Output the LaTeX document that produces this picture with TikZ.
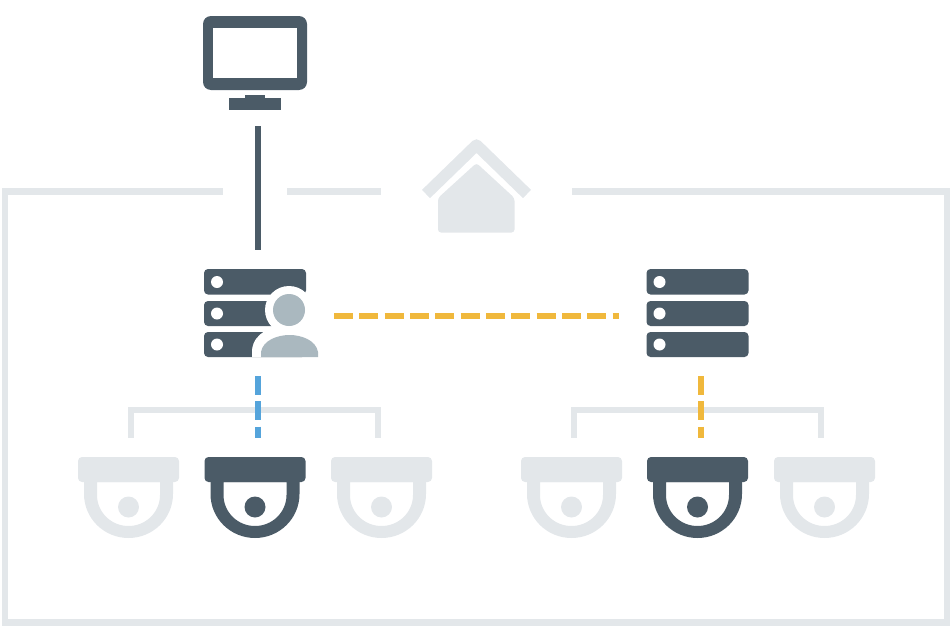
\documentclass[tikz,border=0pt]{standalone}
\definecolor{darkc}{HTML}{4B5B67}
\definecolor{lightc}{HTML}{E3E7EA}
\definecolor{yellowc}{HTML}{F0B83C}
\definecolor{bluec}{HTML}{55A4DB}
\definecolor{personc}{HTML}{AAB8BF}
\tikzset{
  anchorbox/.style={inner sep=0pt,outer sep=0pt,minimum width=1pt},
  solidlink/.style={draw=darkc,line width=6pt},
  framelink/.style={draw=lightc,line width=6.5pt},
  treelink/.style={draw=lightc,line width=6pt},
  yellowlink/.style={draw=yellowc,line width=6pt,dash pattern=on 19pt off 6.33pt},
  bluelink/.style={draw=bluec,line width=6pt,dash pattern=on 19pt off 6.33pt},
}
% #1 node name, #2 icon centre x, #3 colour, #4 connector x
\newcommand{\camicon}[4]{%
  \fill[#3,even odd rule]
    (#2-44.5,478) -- (#2-44.5,494) arc[start angle=180,end angle=360,x radius=44.5,y radius=-44] -- (#2+44.5,478) -- cycle
    (#2-31.5,482) -- (#2-31.5,495) arc[start angle=180,end angle=360,x radius=31.5,y radius=-31] -- (#2+31.5,482) -- cycle;
  \fill[#3,rounded corners=4pt] (#2-50.5,457) rectangle (#2+50.5,482);
  \fill[#3] (#2,507) circle[radius=10.5];
  \node[anchorbox,minimum height=100pt] (#1) at (#4,488) {};
}
% #1 node name, #2 icon left x, #3 connector x, #4 width up to the east/west end
\newcommand{\servericon}[4]{%
  \fill[darkc,rounded corners=4pt] (#2,269) rectangle (#2+102,294.5);
  \fill[darkc,rounded corners=4pt] (#2,301) rectangle (#2+102,326);
  \fill[darkc,rounded corners=4pt] (#2,332) rectangle (#2+102,357);
  \fill[white] (#2+13,282) circle[radius=6];
  \fill[white] (#2+13,313.5) circle[radius=6];
  \fill[white] (#2+13,344.5) circle[radius=6];
  \node[anchorbox,minimum height=126pt,minimum width=#4] (#1) at (#3,313) {};
}
\begin{document}
\begin{tikzpicture}[x=1pt,y=-1pt]
\useasboundingbox (0,0) rectangle (951,629);
% frame
\draw[framelink] (223,191.5) -- (5,191.5) -- (5,622.5) -- (947,622.5) -- (947,191.5) -- (572,191.5);
\draw[framelink] (287,191.5) -- (381,191.5);
% house
\draw[lightc,line width=11.5pt,line join=round] (426,194) -- (476.5,145) -- (527,194);
\fill[lightc,rounded corners=3pt] (438,232.5) -- (438,198) -- (476.5,163) -- (514.5,198) -- (514.5,232.5) -- cycle;
% monitor
\fill[darkc,rounded corners=8pt] (203,16) rectangle (307,90);
\fill[white] (213,28) rectangle (297,78);
\fill[darkc] (245,95) rectangle (265,100);
\fill[darkc] (229,98) rectangle (281,110);
\node[anchorbox,minimum height=116pt] (monitor) at (258,68) {};
% servers
\servericon{srvA}{204}{258}{152pt}
\servericon{srvB}{646.5}{701}{164pt}
% person badge
\fill[white] (289,310) circle[radius=24];
\fill[white] (252,357) -- (252,350) .. controls (254,332) and (272,326) .. (289,326) .. controls (306,326) and (327,332) .. (327,350) -- (327,357) -- cycle;
\fill[personc] (289,310) circle[radius=16];
\fill[personc] (261,357) -- (261,352) .. controls (263,340) and (278,335) .. (289.5,335) .. controls (301,335) and (316,340) .. (318,352) -- (318,357) -- cycle;
% cameras
\camicon{camA1}{128.5}{lightc}{131}
\camicon{camA2}{255}{darkc}{258}
\camicon{camA3}{381.5}{lightc}{378}
\camicon{camB1}{571.5}{lightc}{574}
\camicon{camB2}{697.5}{darkc}{701}
\camicon{camB3}{824.5}{lightc}{821}
% connectors
\draw[solidlink] (monitor.south) -- (srvA.north);
\draw[treelink] (camA1.north) -- ++(0,-28) -| (camA3.north);
\draw[treelink] (camB1.north) -- ++(0,-28) -| (camB3.north);
\draw[bluelink] (srvA.south) -- (camA2.north);
\draw[yellowlink] (srvB.south) -- (camB2.north);
\draw[yellowlink] ([yshift=-3pt]srvA.east) -- ([yshift=-3pt]srvB.west);
\end{tikzpicture}
\end{document}
